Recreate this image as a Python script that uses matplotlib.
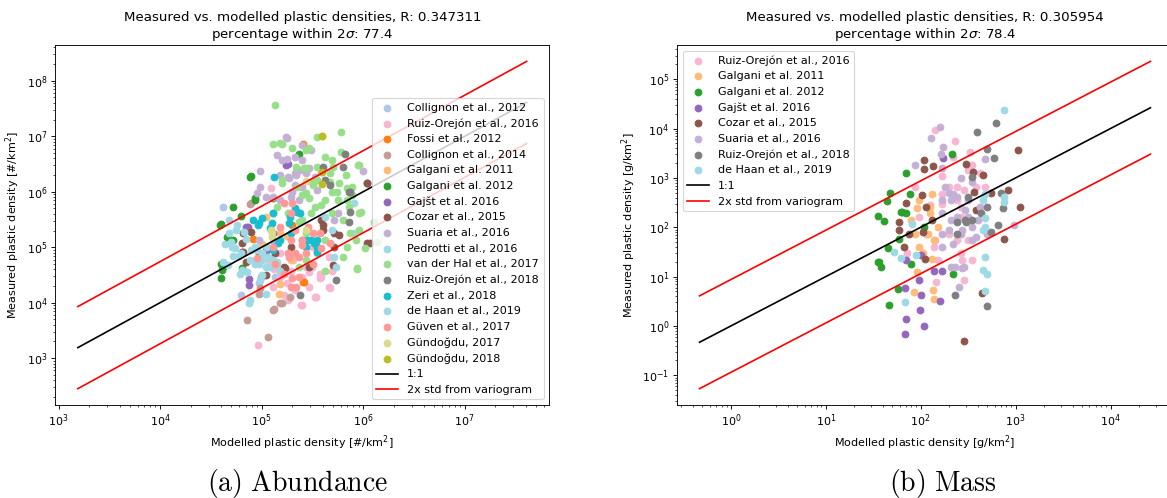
import matplotlib
matplotlib.use('Agg')
import matplotlib.pyplot as plt
import numpy as np

# ---- abundance data, log10 values (modelled, measured) [#/km2] ----
collignon12_x = [4.62, 4.62, 4.80, 4.97, 5.04, 5.13]
collignon12_y = [5.72, 4.70, 4.13, 4.36, 5.00, 4.46]
ruiz16_x = [4.96, 5.39, 5.53, 5.66, 5.57, 5.44, 5.31, 5.18, 5.09, 5.66, 5.51, 5.33, 5.22,
            5.47, 5.57, 5.67, 5.54, 5.40, 5.50, 5.12, 5.25, 5.47, 5.58, 5.69, 5.18, 5.29,
            5.11, 5.40, 5.26, 5.06]
ruiz16_y = [3.23, 3.95, 4.10, 4.28, 4.52, 4.64, 4.77, 4.89, 6.06, 4.83, 5.00, 4.22, 4.13,
            4.55, 4.44, 4.26, 4.10, 3.96, 4.64, 4.60, 4.35, 4.28, 4.46, 4.58, 4.46, 4.58,
            4.28, 4.46, 4.04, 4.77]
fossi_x = [5.41, 5.41, 4.91, 5.30, 5.42]
fossi_y = [6.86, 4.37, 5.15, 5.40, 4.37]
collignon14_x = [4.86, 5.06, 5.11, 5.18, 4.97, 4.89, 5.28, 4.99, 5.12, 5.20, 4.98, 4.90]
collignon14_y = [3.69, 3.39, 3.86, 3.99, 4.16, 5.78, 4.10, 4.46, 3.88, 3.99, 4.26, 5.80]
galgani11_x = [5.17, 5.04, 5.10, 5.25, 5.00, 5.11, 5.18, 5.29, 5.18]
galgani11_y = [4.16, 5.55, 4.80, 5.20, 5.05, 5.61, 5.25, 4.77, 4.34]
galgani12_x = [4.60, 4.60, 4.60, 4.72, 4.66, 4.68, 4.80, 4.89, 4.93, 5.37, 5.11, 4.63,
               4.59, 4.67, 4.72, 4.61, 4.81, 4.90, 4.93]
galgani12_y = [5.42, 4.70, 4.45, 5.73, 5.19, 5.13, 5.56, 6.27, 5.86, 6.68, 5.88, 4.67,
               5.40, 5.17, 5.13, 4.59, 4.62, 6.28, 5.89]
gajst_x = [4.88, 4.88, 5.04, 4.87, 5.11, 5.24, 5.26, 4.85]
gajst_y = [4.43, 4.31, 4.93, 5.37, 5.25, 6.48, 6.50, 5.36]
cozar_x = [4.82, 4.82, 5.04, 5.22, 6.04, 6.07, 5.58, 5.60, 5.71, 5.71, 4.81, 4.81, 4.85,
           4.90, 5.23, 6.04, 5.76, 5.70, 5.60, 6.04, 4.97, 5.13, 5.29, 5.47]
cozar_y = [5.25, 4.92, 4.49, 4.64, 6.15, 5.07, 5.49, 5.31, 5.25, 5.01, 5.08, 4.91, 4.73,
           5.27, 4.62, 5.08, 5.22, 4.68, 5.40, 6.16, 4.89, 4.89, 5.01, 4.64]
suaria_x = [5.25, 5.15, 5.25, 4.98, 4.98, 4.95, 5.27, 5.34, 5.40, 5.30, 5.40, 5.24, 5.49,
            6.00, 5.75, 5.33, 5.44, 5.29, 5.37, 5.55, 5.18, 5.58, 5.20, 5.12, 5.40, 5.33,
            5.26, 5.18, 5.11, 5.33, 5.47, 5.53, 5.38, 5.71, 5.04, 4.97]
suaria_y = [6.97, 6.66, 6.59, 6.38, 6.09, 5.98, 6.25, 6.30, 6.84, 6.00, 6.09, 6.99, 6.75,
            6.38, 5.61, 6.33, 6.33, 5.91, 5.85, 6.03, 5.85, 6.36, 6.57, 5.10, 6.57, 6.63,
            6.27, 6.30, 5.91, 6.12, 6.42, 6.27, 6.39, 5.49, 5.91, 5.13]
pedrotti_x = [4.74, 4.81, 4.67, 4.88, 5.00, 5.08, 5.15, 5.05, 4.95, 4.83, 4.76, 4.62,
              4.72, 5.71, 5.73, 5.91, 5.91, 5.62, 5.69]
pedrotti_y = [4.98, 4.59, 4.68, 3.99, 4.77, 4.64, 4.73, 5.00, 4.95, 5.27, 5.40, 4.73,
              4.84, 4.83, 4.64, 5.79, 5.25, 5.55, 5.31]
vdhal_x = [5.55, 5.59, 5.78, 5.47, 5.96, 5.83, 5.84, 5.89, 5.70, 5.67, 5.76, 5.74, 5.50,
           5.44, 5.13, 5.11, 5.20, 5.30, 5.44, 5.20, 5.34, 5.42, 5.44, 5.78, 5.95,
           5.69, 5.86, 5.80, 5.98, 6.02, 5.94, 5.93, 5.18, 5.40, 5.55, 5.62, 5.53,
           5.44, 5.37, 5.37, 5.44, 5.96, 5.94, 6.11, 6.14,
           5.62, 5.69, 5.55, 5.51, 5.67, 5.75, 5.69, 5.84, 5.89, 5.62, 5.55, 5.40,
           5.49, 5.20, 5.15, 5.26, 5.35, 5.47, 5.58, 5.87, 5.96, 5.84, 5.80, 5.62]
vdhal_y = [6.99, 7.01, 7.08, 6.79, 6.48, 6.30, 6.07, 5.94, 6.45, 6.18, 6.16, 6.00, 6.18,
           6.43, 7.57, 6.86, 6.86, 6.79, 6.75, 6.16, 6.45, 6.43, 5.98, 6.72, 6.48,
           6.00, 5.73, 5.49, 5.64, 4.98, 4.61, 5.13, 6.87, 5.94, 6.21, 5.85, 5.73,
           5.25, 5.46, 4.64, 4.77, 5.62, 4.62, 5.45, 5.09,
           6.63, 6.57, 6.45, 6.12, 6.33, 5.85, 5.61, 5.85, 6.09, 5.13, 4.89, 5.49,
           5.61, 6.21, 5.73, 5.61, 6.09, 5.88, 5.76, 5.25, 5.31, 5.01, 4.83, 4.58]
ruiz18_x = [5.82, 5.80, 5.87, 5.87, 5.86, 5.67, 5.62, 5.73, 5.38, 5.60, 5.86]
ruiz18_y = [6.68, 6.45, 6.00, 5.63, 5.46, 6.12, 6.21, 4.40, 4.13, 6.45, 6.00]
zeri_x = [5.00, 4.91, 4.96, 5.10, 5.16, 5.35, 5.27, 5.11, 5.12, 5.45, 5.55, 5.52, 5.33,
          5.08, 5.18, 5.44, 5.55, 5.28, 5.29, 5.38, 5.40, 5.49, 5.11, 4.97, 5.55]
zeri_y = [5.53, 5.49, 5.40, 5.44, 5.08, 5.64, 5.44, 4.95, 6.27, 5.13, 4.91, 5.08, 5.70,
          5.34, 5.13, 5.00, 5.13, 5.55, 5.25, 5.61, 5.13, 5.13, 5.61, 5.43, 5.01]
dehaan_x = [4.70, 4.78, 4.86, 4.93, 5.00, 5.06, 4.90, 4.64, 4.85, 4.98, 4.68, 4.75,
            4.71, 4.80, 4.89, 4.97, 5.04, 5.11, 4.93, 5.00, 5.15, 4.79, 4.89, 5.04,
            4.68, 5.18]
dehaan_y = [5.10, 4.85, 4.55, 4.70, 4.50, 4.82, 4.95, 5.05, 5.15, 4.40, 5.25, 5.31,
            5.01, 4.89, 4.77, 4.70, 4.64, 4.77, 5.01, 4.89, 4.70, 4.52, 4.04, 4.16,
            5.49, 4.58]
guven_x = [5.40, 5.57, 5.67, 5.30, 5.18, 5.29, 5.33, 4.95, 5.13, 5.51, 5.58, 5.29, 5.40,
           5.27, 5.30, 5.34, 5.22, 5.29, 5.37, 5.26, 5.44, 5.51, 5.33, 5.46, 5.22, 5.11,
           5.37]
guven_y = [5.13, 5.26, 5.08, 5.79, 5.37, 5.13, 4.89, 4.80, 4.70, 5.25, 4.98, 4.28, 5.04,
           4.82, 4.44, 4.28, 5.79, 5.61, 4.83, 4.89, 4.89, 4.70, 5.31, 5.37, 4.52, 5.01,
           4.46]
gundogdu17_x = [5.10, 5.10, 5.09, 5.44, 5.44]
gundogdu17_y = [5.27, 5.18, 5.31, 5.31, 6.20]
gundogdu18_x = [5.59, 5.59, 5.59]
gundogdu18_y = [7.01, 6.36, 6.14]

# ---- mass data, log10 values (modelled, measured) [g/km2] ----
m_ruiz16_x = [2.15, 2.36, 2.54, 2.16, 2.54, 2.38, 2.42, 1.98, 2.06, 2.14, 2.62, 2.42,
              1.86, 2.10, 2.38, 2.22, 2.38, 2.52, 2.22, 2.44, 2.15, 2.30, 2.46, 2.58,
              2.30, 2.50, 2.42, 2.18, 2.46, 1.94, 2.34, 2.50, 2.68, 2.22]
m_ruiz16_y = [3.98, 3.74, 3.26, 0.89, 1.34, 2.82, 2.41, 2.21, 1.87, 1.60, 3.09, 2.21,
              1.47, 2.45, 1.74, 2.68, 2.55, 3.52, 3.03, 1.33, 1.74, 2.82, 2.75, 2.82,
              1.87, 1.74, 1.47, 1.33, 0.93, 2.82, 3.43, 3.16, 2.82, 2.48]
m_galgani11_x = [2.12, 1.96, 1.93, 2.13, 2.14, 1.96, 2.10, 2.12, 2.08, 1.90, 2.18, 1.98,
                 2.02, 1.94, 2.14, 2.10, 1.98]
m_galgani11_y = [1.36, 1.09, 0.69, 0.72, 0.55, 2.38, 2.28, 2.68, 1.87, 2.14, 2.01, 1.60,
                 1.47, 1.87, 1.74, 2.41, 2.55]
m_galgani12_x = [1.55, 1.61, 1.68, 1.64, 1.85, 1.89, 1.79, 1.85, 1.56, 1.58, 1.66, 1.77,
                 1.90, 1.67, 1.76, 2.33, 2.34, 2.04, 1.55, 1.80]
m_galgani12_y = [2.22, 2.12, 2.70, 2.53, 3.10, 2.68, 2.31, 2.28, 1.30, 1.20, 1.57, 1.77,
                 1.26, 0.42, 0.74, 3.49, 1.06, 2.00, 1.29, 2.30]
m_gajst_x = [1.83, 1.84, 1.83, 2.00, 1.98, 2.03, 1.99, 2.20, 2.14, 2.22, 2.23, 2.00, 1.84]
m_gajst_y = [-0.17, 0.15, 0.76, 0.62, 0.93, -0.01, 0.32, 0.51, 1.11, 1.11, 3.41, 1.43, 1.33]
m_cozar_x = [2.03, 2.03, 2.13, 1.85, 2.01, 1.77, 1.77, 1.82, 1.88, 2.02, 2.05, 2.06, 2.12,
             2.46, 2.48, 2.55, 2.66, 3.02, 2.92, 3.05, 2.88, 2.65, 2.58, 2.56, 2.74]
m_cozar_y = [3.36, 3.19, 3.24, 2.49, 2.65, 2.11, 1.94, 1.60, 1.87, 1.91, 1.36, 2.41, 2.14,
             -0.30, 3.29, 3.12, 3.05, 3.57, 2.76, 2.40, 1.76, 0.66, 2.34, 2.72, 2.70]
m_suaria_x = [2.20, 2.11, 2.24, 2.21, 1.94, 2.22, 2.42, 2.54, 2.68, 2.26, 2.34, 2.22, 2.22,
              2.32, 2.44, 2.54, 2.22, 2.34, 2.46, 2.40, 2.98, 2.70, 2.30, 2.47, 2.36, 2.44,
              2.32, 2.38, 2.50, 2.62, 2.30, 2.42, 2.58, 2.22, 2.32, 2.54, 2.38, 2.50, 2.60]
m_suaria_y = [4.03, 3.80, 3.63, 3.49, 3.27, 3.21, 2.99, 2.92, 3.39, 2.82, 2.68, 2.55, 2.28,
              2.14, 1.94, 2.01, 1.87, 1.67, 1.20, 0.79, 2.04, 1.87, 2.69, 2.34, 1.19, 1.17,
              2.55, 2.61, 2.55, 2.41, 1.94, 1.87, 1.80, 1.60, 1.20, 1.74, 2.21, 2.21, 2.14]
m_ruiz18_x = [2.79, 2.59, 2.70, 2.77, 2.54, 2.50, 2.64, 2.85, 2.87, 2.81, 2.74, 2.48,
              2.38, 2.36, 2.70, 2.47, 2.54, 2.38, 2.70]
m_ruiz18_y = [4.11, 3.92, 3.59, 3.41, 3.02, 2.61, 2.28, 2.70, 2.38, 2.04, 1.91, 2.11,
              2.11, 0.62, 0.40, 2.14, 2.14, 1.87, 2.41]
m_dehaan_x = [2.88, 2.88, 2.88, 2.68, 2.66, 2.68, 2.66, 2.68, 2.68, 2.66, 2.70, 2.68,
              1.91, 1.95, 1.83, 1.72, 1.79]
m_dehaan_y = [4.37, 2.61, 2.51, 2.68, 2.55, 2.01, 1.94, 2.18, 1.39, 1.13, 1.05, 0.71,
              2.07, 1.43, 0.49, 1.49, 1.37]

abundance = [
    ('Collignon et al., 2012', collignon12_x, collignon12_y, '#aec7e8'),
    ('Ruiz-Orejón et al., 2016', ruiz16_x, ruiz16_y, '#f7b6d2'),
    ('Fossi et al., 2012', fossi_x, fossi_y, '#ff7f0e'),
    ('Collignon et al., 2014', collignon14_x, collignon14_y, '#c49c94'),
    ('Galgani et al. 2011', galgani11_x, galgani11_y, '#ffbb78'),
    ('Galgani et al. 2012', galgani12_x, galgani12_y, '#2ca02c'),
    ('Gajšt et al. 2016', gajst_x, gajst_y, '#9467bd'),
    ('Cozar et al., 2015', cozar_x, cozar_y, '#8c564b'),
    ('Suaria et al., 2016', suaria_x, suaria_y, '#c5b0d5'),
    ('Pedrotti et al., 2016', pedrotti_x, pedrotti_y, '#9edae5'),
    ('van der Hal et al., 2017', vdhal_x, vdhal_y, '#98df8a'),
    ('Ruiz-Orejón et al., 2018', ruiz18_x, ruiz18_y, '#7f7f7f'),
    ('Zeri et al., 2018', zeri_x, zeri_y, '#17becf'),
    ('de Haan et al., 2019', dehaan_x, dehaan_y, '#9edae5'),
    ('Güven et al., 2017', guven_x, guven_y, '#ff9896'),
    ('Gündoğdu, 2017', gundogdu17_x, gundogdu17_y, '#dbdb8d'),
    ('Gündoğdu, 2018', gundogdu18_x, gundogdu18_y, '#bcbd22'),
]
mass = [
    ('Ruiz-Orejón et al., 2016', m_ruiz16_x, m_ruiz16_y, '#f7b6d2'),
    ('Galgani et al. 2011', m_galgani11_x, m_galgani11_y, '#ffbb78'),
    ('Galgani et al. 2012', m_galgani12_x, m_galgani12_y, '#2ca02c'),
    ('Gajšt et al. 2016', m_gajst_x, m_gajst_y, '#9467bd'),
    ('Cozar et al., 2015', m_cozar_x, m_cozar_y, '#8c564b'),
    ('Suaria et al., 2016', m_suaria_x, m_suaria_y, '#c5b0d5'),
    ('Ruiz-Orejón et al., 2018', m_ruiz18_x, m_ruiz18_y, '#7f7f7f'),
    ('de Haan et al., 2019', m_dehaan_x, m_dehaan_y, '#9edae5'),
]

# 1:1 line range and 2 sigma factor (log10) from variogram
abund_line = [3.19, 7.61]
abund_std2 = 0.74
mass_line = [-0.33, 4.42]
mass_std2 = 0.94

titles = ['Measured vs. modelled plastic densities, R: 0.347311\npercentage within 2$\\sigma$: 77.4',
          'Measured vs. modelled plastic densities, R: 0.305954\npercentage within 2$\\sigma$: 78.4']
units = ['#/km$^2$', 'g/km$^2$']
captions = [r'$\mathrm{(a)\ Abundance}$', r'$\mathrm{(b)\ Mass}$']

# drawn at dpi 80 with a larger canvas so default sizes shrink like the original
fig = plt.figure(figsize=(11.67 / 0.8, 4.98 / 0.8), dpi=80)
ax1 = fig.add_axes([0.0475, 0.1867, 0.423, 0.7229])
ax2 = fig.add_axes([0.5801, 0.1867, 0.4250, 0.7229])

def panel(ax, sets, line, std2, title, unit, loc):
    for name, lx, ly, col in sets:
        ax.scatter(10**np.array(lx), 10**np.array(ly), color=col, label=name)
    xs = 10**np.array(line)
    ax.plot(xs, xs, 'k', label='1:1')
    ax.plot(xs, xs * 10**std2, 'r', label='2x std from variogram')
    ax.plot(xs, xs / 10**std2, 'r')
    ax.set_xscale('log')
    ax.set_yscale('log')
    ax.set_title(title)
    ax.set_xlabel('Modelled plastic density [%s]' % unit)
    ax.set_ylabel('Measured plastic density [%s]' % unit)
    ax.legend(loc=loc)

panel(ax1, abundance, abund_line, abund_std2, titles[0], units[0], 'lower right')
panel(ax2, mass, mass_line, mass_std2, titles[1], units[1], 'upper left')

fig.text(0.255, 0.03, captions[0], fontsize=25, ha='center', va='center', math_fontfamily='cm')
fig.text(0.808, 0.03, captions[1], fontsize=25, ha='center', va='center', math_fontfamily='cm')

fig.savefig('out.png', dpi=80)
